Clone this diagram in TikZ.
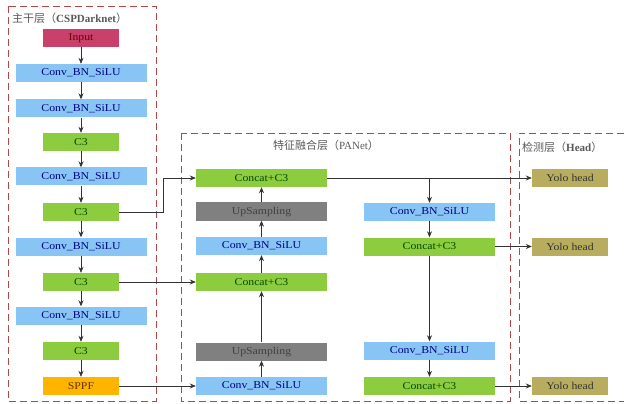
\documentclass[tikz,border=0pt]{standalone}
\usepackage{fontspec}
\setmainfont{Liberation Serif}
\newfontfamily\nodefont{Liberation Serif}[FakeStretch=1.12]
\newfontfamily\cjk{Noto Sans CJK SC}
\usetikzlibrary{arrows.meta}
\definecolor{inputc}{HTML}{C9406A}
\definecolor{convc}{HTML}{88C4F4}
\definecolor{cthree}{HTML}{8DCB3F}
\definecolor{sppfc}{HTML}{FFB400}
\definecolor{upc}{HTML}{808080}
\definecolor{yoloc}{HTML}{B8AD5E}
\definecolor{boxred}{HTML}{B04848}
\begin{document}
\begin{tikzpicture}[x=1pt,y=-1pt,
  blk/.style={minimum height=18pt,inner sep=0pt,font=\nodefont\fontsize{10.5}{11}\selectfont},
  wide/.style={blk,minimum width=131pt},
  narrow/.style={blk,minimum width=76pt},
  inputbox/.style={narrow,fill=inputc,text=red!40!black},
  convbox/.style={wide,fill=convc,text=blue!50!black},
  cbox/.style={narrow,fill=cthree,text=green!30!black},
  catbox/.style={wide,fill=cthree,text=green!30!black},
  sppfbox/.style={narrow,fill=sppfc,text=orange!40!black},
  upbox/.style={wide,fill=upc,text=black!75},
  yolobox/.style={narrow,fill=yoloc,text=black!80},
  conn/.style={draw=black!80,line width=0.7pt,-{Stealth[length=6pt,width=5pt]}},
  group/.style={draw=boxred,dashed,dash pattern=on 7pt off 4pt,line width=0.9pt},
  ttl/.style={font=\fontsize{11}{12}\selectfont,text=black!65,inner sep=0pt}]
\fill[white] (0,0) rectangle (625,404);
\useasboundingbox (0,0) rectangle (625,404);
% group boxes
\draw[group] (8,6) rectangle (156,401);
\draw[group] (181,133) rectangle (510,401);
\draw[group] (624,133) -- (519,133) -- (519,401) -- (624,401);
\node[ttl,anchor=west] (t1) at (12,18) {{\cjk 主干层（}\textbf{CSPDarknet}{\cjk ）}};
\node[ttl] (t2) at (326,145) {{\cjk 特征融合层（}PANet{\cjk ）}};
\node[ttl,anchor=west] (t3) at (522,147) {{\cjk 检测层（}\textbf{Head}{\cjk ）}};
% backbone
\node[inputbox] (in) at (81,38) {Input};
\node[convbox] (cv1) at (81,73) {Conv\_BN\_SiLU};
\node[convbox] (cv2) at (81,108.5) {Conv\_BN\_SiLU};
\node[cbox] (c1) at (81,142) {C3};
\node[convbox] (cv3) at (81,176.5) {Conv\_BN\_SiLU};
\node[cbox] (c2) at (81,212) {C3};
\node[convbox] (cv4) at (81,246.5) {Conv\_BN\_SiLU};
\node[cbox] (c3) at (81,282) {C3};
\node[convbox] (cv5) at (81,315.5) {Conv\_BN\_SiLU};
\node[cbox] (c4) at (81,351) {C3};
\node[sppfbox] (sppf) at (81,386) {SPPF};
% neck left column
\node[catbox] (cat1) at (261.5,178) {Concat+C3};
\node[upbox] (up1) at (261.5,211.5) {UpSampling};
\node[convbox] (mc1) at (261.5,246) {Conv\_BN\_SiLU};
\node[catbox] (cat2) at (261.5,282) {Concat+C3};
\node[upbox] (up2) at (261.5,351.5) {UpSampling};
\node[convbox] (mc2) at (261.5,386) {Conv\_BN\_SiLU};
% neck right column
\node[convbox] (rc1) at (429.5,212) {Conv\_BN\_SiLU};
\node[catbox] (rcat1) at (429.5,246.5) {Concat+C3};
\node[convbox] (rc2) at (429.5,350.5) {Conv\_BN\_SiLU};
\node[catbox] (rcat2) at (429.5,386) {Concat+C3};
% heads
\node[yolobox] (y1) at (570,178) {Yolo head};
\node[yolobox] (y2) at (570,246.5) {Yolo head};
\node[yolobox] (y3) at (570,386) {Yolo head};
% backbone arrows
\foreach \a/\b in {in/cv1,cv1/cv2,cv2/c1,c1/cv3,cv3/c2,c2/cv4,cv4/c3,c3/cv5,cv5/c4,c4/sppf}
  \draw[conn] (\a) -- (\b);
% lateral
\coordinate (k1) at (163,212);
\coordinate (k2) at (163,178);
\draw[conn] (c2.east) -- (k1) -- (k2) -- (cat1.west);
\draw[conn] (c3.east) -- (cat2.west);
\draw[conn] (sppf.east) -- (mc2.west);
% neck up path
\foreach \a/\b in {mc2/up2,up2/cat2,cat2/mc1,mc1/up1,up1/cat1}
  \draw[conn] (\a) -- (\b);
% down path
\coordinate (br) at (429.5,178);
\draw[conn] (cat1.east) -- (y1.west);
\draw[conn] (br) -- (rc1.north);
\draw[conn] (rc1) -- (rcat1);
\draw[conn] (rcat1.east) -- (y2.west);
\draw[conn] (rcat1) -- (rc2);
\draw[conn] (rc2) -- (rcat2);
\draw[conn] (rcat2.east) -- (y3.west);
\end{tikzpicture}
\end{document}
